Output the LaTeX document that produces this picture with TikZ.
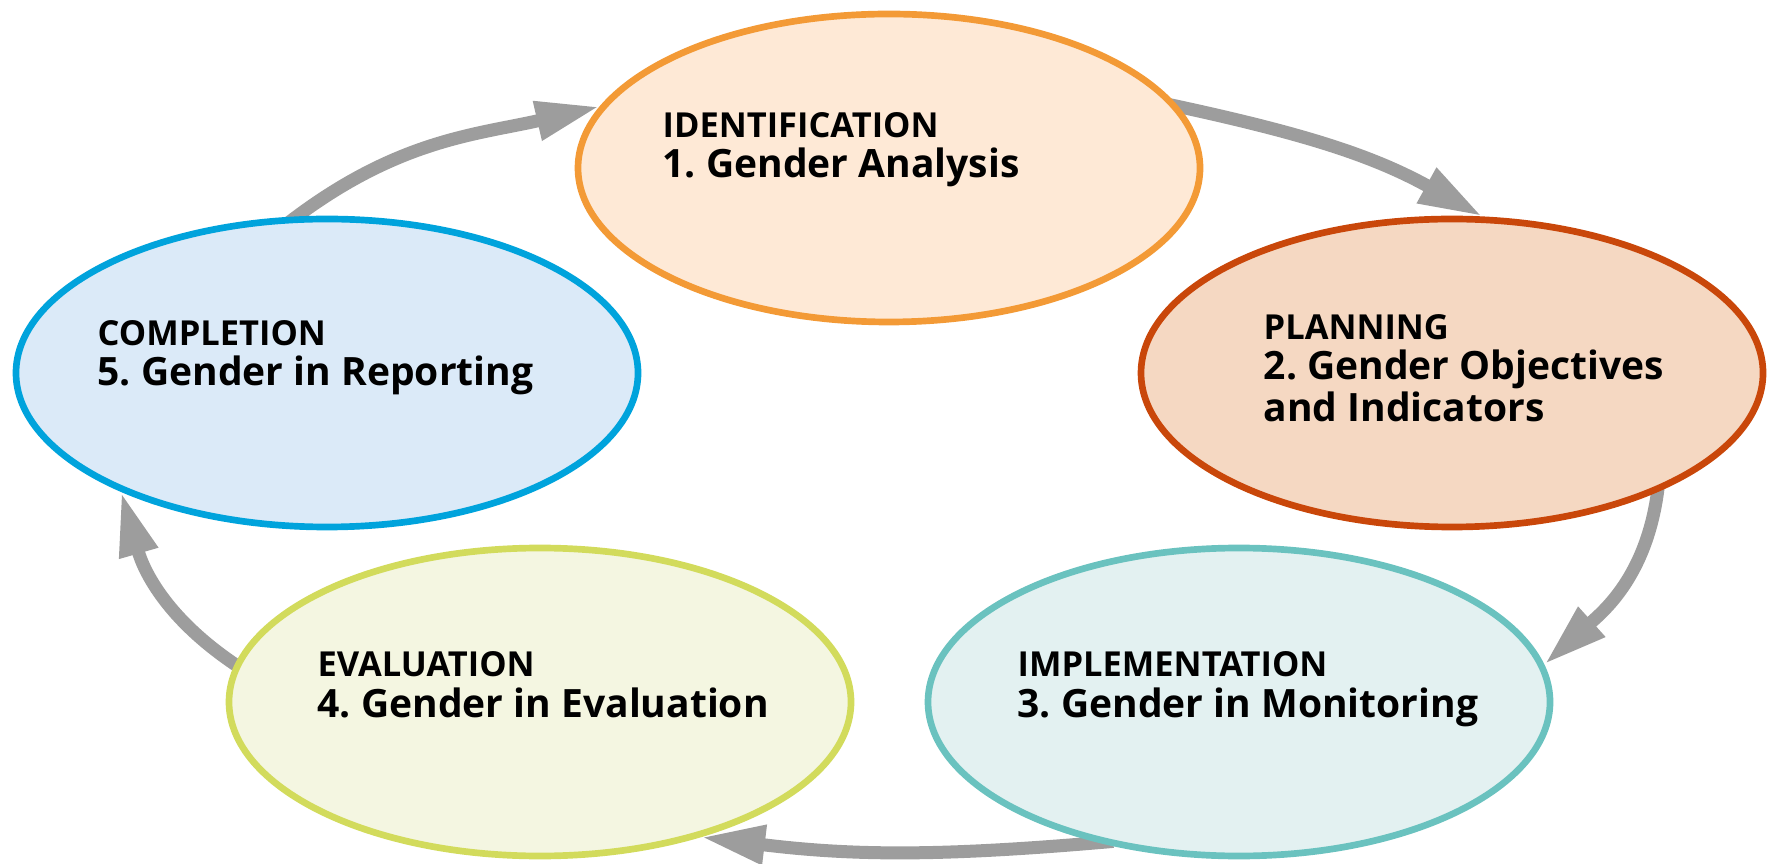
\documentclass[tikz,border=0pt]{standalone}
\usepackage{fontspec}
\setmainfont{Open Sans}
\frenchspacing
\usetikzlibrary{arrows.meta,shapes.geometric,backgrounds}
\definecolor{s1}{HTML}{F39A36}\definecolor{f1}{HTML}{FEE9D6}
\definecolor{s2}{HTML}{C9470A}\definecolor{f2}{HTML}{F5D8C2}
\definecolor{s3}{HTML}{6AC2BF}\definecolor{f3}{HTML}{E3F1F1}
\definecolor{s4}{HTML}{D2DB5C}\definecolor{f4}{HTML}{F4F6E1}
\definecolor{s5}{HTML}{00A3DC}\definecolor{f5}{HTML}{DBEAF8}
\definecolor{arrowgray}{HTML}{9D9D9D}
\begin{document}
\begin{tikzpicture}[
  stage/.style 2 args={ellipse, draw=#1, fill=#2, line width=1.9pt,
    minimum width=6.22cm, minimum height=3.08cm, inner sep=0pt},
  lbl/.style={anchor=base west, align=left, inner sep=0pt,
    font=\bfseries\fontsize{11.1}{10.9}\selectfont\frenchspacing},
  flow/.style={draw=arrowgray, line width=0.13cm, shorten <=-0.15cm,
    -{Triangle[length=0.64cm,width=0.37cm]}},
]
\useasboundingbox (0,0) rectangle (17.76,-8.64);
\newcommand{\ttlfont}{\fontsize{9.8}{10.9}\selectfont}

\node[stage={s1}{f1}] (e1) at (8.89,-1.68) {};
\node[stage={s2}{f2}] (e2) at (14.52,-3.73) {};
\node[stage={s3}{f3}] (e3) at (12.39,-7.02) {};
\node[stage={s4}{f4}] (e4) at (5.40,-7.02) {};
\node[stage={s5}{f5}] (e5) at (3.27,-3.73) {};

\node[lbl] (t1) at (6.62,-1.78) {{\ttlfont IDENTIFICATION}\\[0.6pt]1. Gender Analysis};
\node[lbl] (t2) at (12.63,-4.22) {{\ttlfont PLANNING}\\[0.6pt]2. Gender Objectives\\and Indicators};
\node[lbl] (t3) at (10.17,-7.17) {{\ttlfont IMPLEMENTATION}\\[0.6pt]3. Gender in Monitoring};
\node[lbl] (t4) at (3.17,-7.17) {{\ttlfont EVALUATION}\\[0.6pt]4. Gender in Evaluation};
\node[lbl] (t5) at (0.97,-3.86) {{\ttlfont COMPLETION}\\[0.6pt]5. Gender in Reporting};

\begin{scope}[on background layer]
\draw[flow] (e5.101) to[out=38,in=193] (e1.168);
\draw[flow] (e1.12.5) to[out=-12,in=151] (e2.79);
\draw[flow] (e2.-30) to[out=-95,in=42] (e3.7);
\draw[flow] (e3.225) to[out=185,in=-7] (e4.-40);
\draw[flow] (e4.173) to[out=148,in=-74] (e5.210);
\end{scope}
\end{tikzpicture}
\end{document}
